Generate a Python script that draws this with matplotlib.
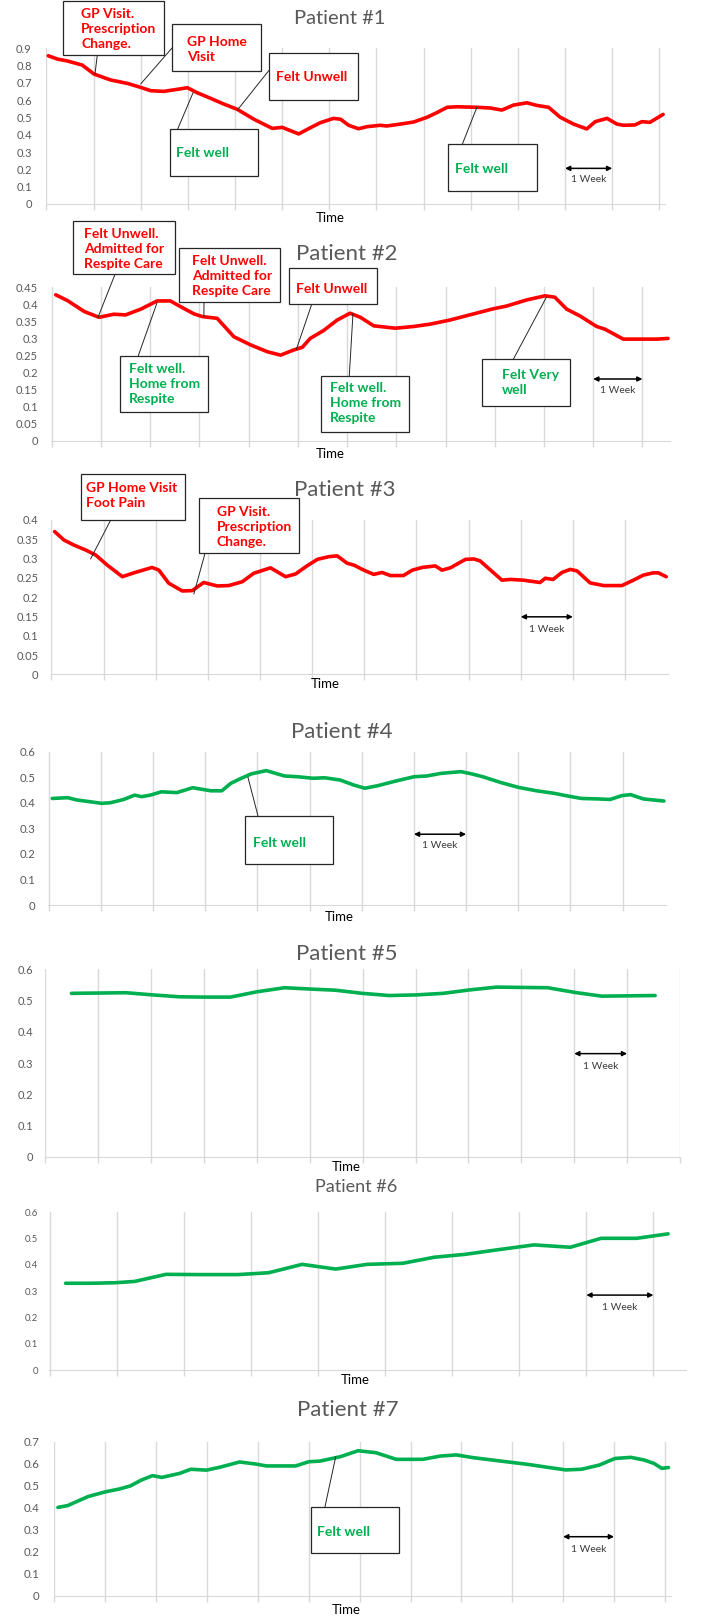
import numpy as np
import matplotlib
matplotlib.use("Agg")
import matplotlib.pyplot as plt
from matplotlib.patches import Rectangle
from matplotlib.ticker import FuncFormatter

plt.rcParams['font.family'] = ['Lato', 'DejaVu Sans']

# --- data: time in weeks, wellbeing score ---
p1_week = [0.04, 0.23, 0.44, 0.76, 1.01, 1.36, 1.72, 2.0, 2.21, 2.49, 2.78, 2.99, 3.2, 3.48, 3.76,
           4.05, 4.4, 4.79, 5.0, 5.35, 5.6, 5.81, 6.09, 6.24, 6.41, 6.62, 6.8, 7.08, 7.22, 7.51,
           7.79, 8.07, 8.28, 8.5, 8.71, 9.13, 9.41, 9.66, 9.91, 10.19, 10.4, 10.65, 10.9, 11.18,
           11.46, 11.64, 11.89, 12.1, 12.24, 12.48, 12.63, 12.8, 13.08]
p1_score = [0.857, 0.838, 0.827, 0.803, 0.751, 0.717, 0.697, 0.674, 0.655, 0.651, 0.663, 0.672, 0.643,
            0.611, 0.578, 0.547, 0.49, 0.437, 0.443, 0.405, 0.441, 0.47, 0.495, 0.49, 0.455, 0.435,
            0.447, 0.455, 0.451, 0.462, 0.474, 0.501, 0.528, 0.559, 0.562, 0.559, 0.555, 0.543, 0.572,
            0.585, 0.57, 0.559, 0.501, 0.462, 0.434, 0.476, 0.495, 0.462, 0.455, 0.457, 0.476, 0.472,
            0.518]

p2_week = [0.08, 0.32, 0.66, 0.96, 1.26, 1.5, 1.81, 2.14, 2.41, 2.62, 2.89, 3.06, 3.36, 3.7, 4.04,
           4.38, 4.65, 4.91, 5.09, 5.25, 5.52, 5.8, 6.06, 6.27, 6.54, 6.98, 7.35, 7.69, 8.09, 8.57,
           8.97, 9.24, 9.65, 10.02, 10.22, 10.46, 10.73, 11.07, 11.24, 11.61, 11.95, 12.29, 12.52]
p2_score = [0.428, 0.411, 0.379, 0.362, 0.371, 0.369, 0.386, 0.41, 0.41, 0.393, 0.372, 0.364, 0.359,
            0.305, 0.281, 0.261, 0.251, 0.266, 0.274, 0.3, 0.323, 0.354, 0.374, 0.362, 0.337, 0.33,
            0.335, 0.342, 0.354, 0.372, 0.387, 0.395, 0.413, 0.425, 0.421, 0.386, 0.366, 0.335,
            0.327, 0.298, 0.298, 0.298, 0.3]

p3_week = [0.06, 0.24, 0.43, 0.66, 0.85, 1.07, 1.36, 1.58, 1.93, 2.06, 2.25, 2.51, 2.7, 2.92, 3.18,
           3.4, 3.66, 3.88, 4.2, 4.49, 4.68, 4.9, 5.1, 5.32, 5.48, 5.67, 5.8, 5.99, 6.18, 6.34, 6.5,
           6.75, 6.92, 7.11, 7.36, 7.49, 7.65, 7.94, 8.1, 8.22, 8.64, 8.8, 9.05, 9.37, 9.47, 9.62,
           9.79, 9.95, 10.08, 10.33, 10.59, 10.94, 11.16, 11.35, 11.54, 11.64, 11.79]
p3_score = [0.37, 0.348, 0.335, 0.322, 0.309, 0.283, 0.253, 0.263, 0.277, 0.27, 0.236, 0.216, 0.217,
            0.238, 0.229, 0.23, 0.24, 0.262, 0.276, 0.253, 0.26, 0.281, 0.298, 0.305, 0.307, 0.288,
            0.283, 0.27, 0.259, 0.264, 0.256, 0.256, 0.27, 0.277, 0.281, 0.27, 0.276, 0.298, 0.299,
            0.294, 0.244, 0.246, 0.244, 0.238, 0.249, 0.246, 0.264, 0.272, 0.268, 0.237, 0.23, 0.23,
            0.244, 0.257, 0.263, 0.263, 0.253]

p4_week = [0.07, 0.37, 0.54, 0.8, 1.01, 1.18, 1.44, 1.65, 1.78, 1.95, 2.16, 2.46, 2.76, 3.11, 3.32,
           3.49, 3.66, 3.88, 4.17, 4.52, 4.77, 5.07, 5.29, 5.59, 5.84, 6.06, 6.31, 6.61, 7.0, 7.25,
           7.51, 7.9, 8.11, 8.32, 8.67, 9.01, 9.35, 9.69, 9.91, 10.21, 10.55, 10.76, 10.98, 11.15,
           11.4, 11.79]
p4_score = [0.417, 0.42, 0.411, 0.404, 0.398, 0.4, 0.413, 0.43, 0.424, 0.43, 0.443, 0.44, 0.459,
            0.447, 0.447, 0.476, 0.493, 0.513, 0.526, 0.505, 0.502, 0.496, 0.498, 0.489, 0.47, 0.457,
            0.467, 0.483, 0.502, 0.505, 0.515, 0.522, 0.513, 0.502, 0.479, 0.46, 0.447, 0.437, 0.428,
            0.417, 0.415, 0.413, 0.428, 0.432, 0.415, 0.407]

p5_week = [0.49, 1.01, 1.52, 2.03, 2.53, 3.0, 3.5, 4.0, 4.52, 4.98, 5.49, 5.99, 6.5, 7.01, 7.52,
           8.02, 8.53, 9.0, 9.5, 10.01, 10.52, 11.02, 11.53]
p5_score = [0.523, 0.524, 0.525, 0.518, 0.512, 0.511, 0.511, 0.528, 0.541, 0.537, 0.533, 0.523,
            0.516, 0.518, 0.523, 0.534, 0.543, 0.542, 0.541, 0.526, 0.514, 0.515, 0.516]

p6_week = [0.23, 0.6, 0.97, 1.26, 1.73, 2.2, 2.8, 3.26, 3.76, 4.26, 4.73, 5.26, 5.73, 6.19, 6.72,
           7.22, 7.76, 8.22, 8.75, 9.22]
p6_score = [0.33, 0.33, 0.332, 0.337, 0.364, 0.363, 0.363, 0.37, 0.402, 0.384, 0.402, 0.406, 0.429,
            0.44, 0.459, 0.476, 0.467, 0.501, 0.501, 0.518]

p7_week = [0.07, 0.26, 0.66, 1.01, 1.27, 1.49, 1.71, 1.93, 2.11, 2.46, 2.68, 2.99, 3.25, 3.64, 3.95,
           4.17, 4.74, 5.0, 5.22, 5.62, 5.97, 6.32, 6.72, 7.24, 7.59, 7.9, 8.25, 8.78, 9.31, 9.75,
           10.05, 10.36, 10.71, 11.02, 11.33, 11.59, 11.78, 11.94, 12.07]
p7_score = [0.402, 0.41, 0.451, 0.473, 0.485, 0.499, 0.526, 0.546, 0.538, 0.556, 0.575, 0.571, 0.584,
            0.608, 0.599, 0.59, 0.59, 0.609, 0.612, 0.632, 0.659, 0.65, 0.62, 0.62, 0.635, 0.64,
            0.627, 0.612, 0.597, 0.582, 0.572, 0.575, 0.594, 0.624, 0.629, 0.617, 0.602, 0.579, 0.583]

titles = ['Patient #1', 'Patient #2', 'Patient #3', 'Patient #4', 'Patient #5', 'Patient #6', 'Patient #7']
RED, GREEN = '#FF0000', '#00B050'

# events: (panel, label, colour, anchor week, anchor score)
events = [
    (0, 'GP Visit.\nPrescription\nChange.', RED, 1.03, 0.751),
    (0, 'GP Home\nVisit', RED, 2.0, 0.694),
    (0, 'Felt Unwell', RED, 4.05, 0.543),
    (0, 'Felt well', GREEN, 3.11, 0.643),
    (0, 'Felt well', GREEN, 9.13, 0.559),
    (1, 'Felt Unwell.\nAdmitted for\nRespite Care', RED, 0.94, 0.362),
    (1, 'Felt Unwell.\nAdmitted for\nRespite Care', RED, 3.09, 0.364),
    (1, 'Felt Unwell', RED, 4.97, 0.268),
    (1, 'Felt well.\nHome from\nRespite', GREEN, 2.14, 0.405),
    (1, 'Felt well.\nHome from\nRespite', GREEN, 6.12, 0.374),
    (1, 'Felt Very\nwell', GREEN, 10.05, 0.421),
    (2, 'GP Home Visit\nFoot Pain', RED, 0.75, 0.299),
    (2, 'GP Visit.\nPrescription\nChange.', RED, 2.73, 0.208),
    (3, 'Felt well', GREEN, 3.82, 0.5),
    (6, 'Felt well', GREEN, 5.53, 0.632),
]
# "1 Week" scale marker per panel: (start week, end week, arrow score, label score)
week_marks = [(11, 12, 0.206, 0.143), (11, 12, 0.181, 0.146), (9, 10, 0.149, 0.117),
              (7, 8, 0.277, 0.231), (10, 11, 0.33, 0.29), (8, 9, 0.285, 0.239), (10, 11, 0.269, 0.212)]

# --- layout (pixels in a 701 x 1616 image) ---
W, H = 701, 1616
def fx(px):
    return px / W
def fy(py):
    return 1 - py / H

# left, right, top, bottom, xmax, ymax, ystep, label pad, tick size
panels = [
    (45.7, 665, 48.3, 204, 13.12, 0.9, 0.1, 10, 8),
    (51, 670, 287.3, 440.7, 12.56, 0.45, 0.05, 9.4, 8),
    (50.7, 668.3, 520, 674.3, 11.83, 0.4, 0.05, 8.7, 8),
    (47.8, 666, 751.7, 905, 11.83, 0.6, 0.1, 8.7, 8.2),
    (44.7, 680, 969.3, 1156.7, 12.0, 0.6, 0.1, 8, 8),
    (49.2, 686.2, 1212.3, 1370, 9.49, 0.6, 0.1, 8, 6.8),
    (53.6, 670.5, 1441.7, 1596, 12.11, 0.7, 0.1, 10, 8.2),
]
title_pos = [(340, 18.5, 14.5), (346.5, 254, 16), (345, 489.5, 16), (341.5, 732, 16),
             (346.4, 953.5, 16), (356, 1187, 13), (347.6, 1410, 16)]
time_pos = [(330, 218), (330, 454.5), (325, 684), (339.7, 916.7), (346.4, 1166.7), (355.7, 1379.5), (346.4, 1610)]
# box: left, top, right, bottom, text x, text centre y, connector start x, y
boxes = [
    (63.3, 0.5, 164, 55, 81, 29, 97.3, 55),
    (172.3, 24.3, 261, 71, 186.7, 49.9, 172.3, 47.7),
    (269.3, 53.3, 358.3, 100, 276, 77.3, 269.3, 70),
    (169.7, 129, 258.3, 175.7, 176, 153.3, 177.7, 129),
    (448.3, 144.3, 536.7, 191, 455, 169, 462.3, 144.3),
    (73.3, 221, 174.7, 274.3, 84.3, 249.1, 115, 274.3),
    (179.3, 248.3, 280, 302.3, 191.7, 275.8, 204, 302.3),
    (288.7, 268.3, 377.3, 304.3, 296, 289.3, 311.7, 304.3),
    (120, 355.7, 208.3, 412.3, 129.3, 384.2, 138.3, 355.7),
    (320.7, 375.7, 409.3, 432.3, 330, 403.3, 349.3, 375.7),
    (482.3, 359.3, 570, 405.7, 501.7, 382.2, 513.3, 359.3),
    (80.7, 473.7, 185, 520, 86, 495.9, 110.7, 520),
    (199, 498.3, 299.3, 553.3, 216.7, 526.7, 205, 553.3),
    (244.5, 816, 333, 864, 252.6, 842.7, 258, 816),
    (310.7, 1506.7, 399.2, 1553.3, 317.4, 1532.3, 325, 1506.7),
]

weeks = [p1_week, p2_week, p3_week, p4_week, p5_week, p6_week, p7_week]
scores = [p1_score, p2_score, p3_score, p4_score, p5_score, p6_score, p7_score]
colors = [RED, RED, RED, GREEN, GREEN, GREEN, GREEN]

fig = plt.figure(figsize=(7.01, 16.16), dpi=100)
axes = []
for i, (l, r, t, b, xmax, ymax, ystep, pad, tsize) in enumerate(panels):
    ax = fig.add_axes([fx(l), fy(b), fx(r) - fx(l), fy(t) - fy(b)])
    ax.patch.set_alpha(0)
    ax.set_xlim(-0.015, xmax)
    ax.set_ylim(0, ymax)
    ax.set_xticks(np.arange(0, int(xmax) + 1))
    ax.set_xticklabels([])
    ax.set_yticks(np.round(np.arange(0, ymax + ystep / 2, ystep), 2))
    ax.yaxis.set_major_formatter(FuncFormatter(lambda v, p: f'{v:g}'))
    ax.grid(axis='x', color='#D9D9D9', lw=1.0)
    for s in ['top', 'right', 'left']:
        ax.spines[s].set_visible(False)
    ax.spines['bottom'].set_color('#D9D9D9')
    ax.tick_params(axis='x', direction='out', length=4, width=1, color='#D9D9D9')
    ax.tick_params(axis='y', length=0, pad=pad, labelsize=tsize, labelcolor='#595959')

    ax.plot(weeks[i], scores[i], color=colors[i], lw=2.6,
            solid_capstyle='round', solid_joinstyle='round', zorder=3)

    w0, w1, va, vl = week_marks[i]
    ax.annotate('', xy=(w1, va), xytext=(w0, va),
                arrowprops=dict(arrowstyle='<|-|>', color='black', lw=1.1,
                                mutation_scale=7, shrinkA=0, shrinkB=0))
    ax.text((w0 + w1) / 2, vl, '1 Week', ha='center', va='center', fontsize=7.5, color='#3b3b3b')

    tx, ty, ts = title_pos[i]
    fig.text(fx(tx), fy(ty), titles[i], ha='center', va='center', fontsize=ts, color='#595959')
    px, py = time_pos[i]
    fig.text(fx(px), fy(py), 'Time', ha='center', va='center', fontsize=9.5, color='black')
    axes.append(ax)

for (panel, label, col, aw, av), (l, t, r, b, tx, ty, sx, sy) in zip(events, boxes):
    ax = axes[panel]
    ax.annotate('', xy=(aw, av), xycoords='data', xytext=(fx(sx), fy(sy)),
                textcoords='figure fraction', annotation_clip=False,
                arrowprops=dict(arrowstyle='-', color='#262626', lw=0.7, shrinkA=0, shrinkB=0))
    fig.patches.append(Rectangle((fx(l), fy(b)), fx(r) - fx(l), fy(t) - fy(b),
                                 transform=fig.transFigure, fc='white', ec='#262626',
                                 lw=0.9, zorder=5))
    fig.text(fx(tx), fy(ty), label, ha='left', va='center', fontsize=10,
             fontweight='bold', color=col, linespacing=1.32, zorder=6)

fig.savefig('out.png', dpi=100)
